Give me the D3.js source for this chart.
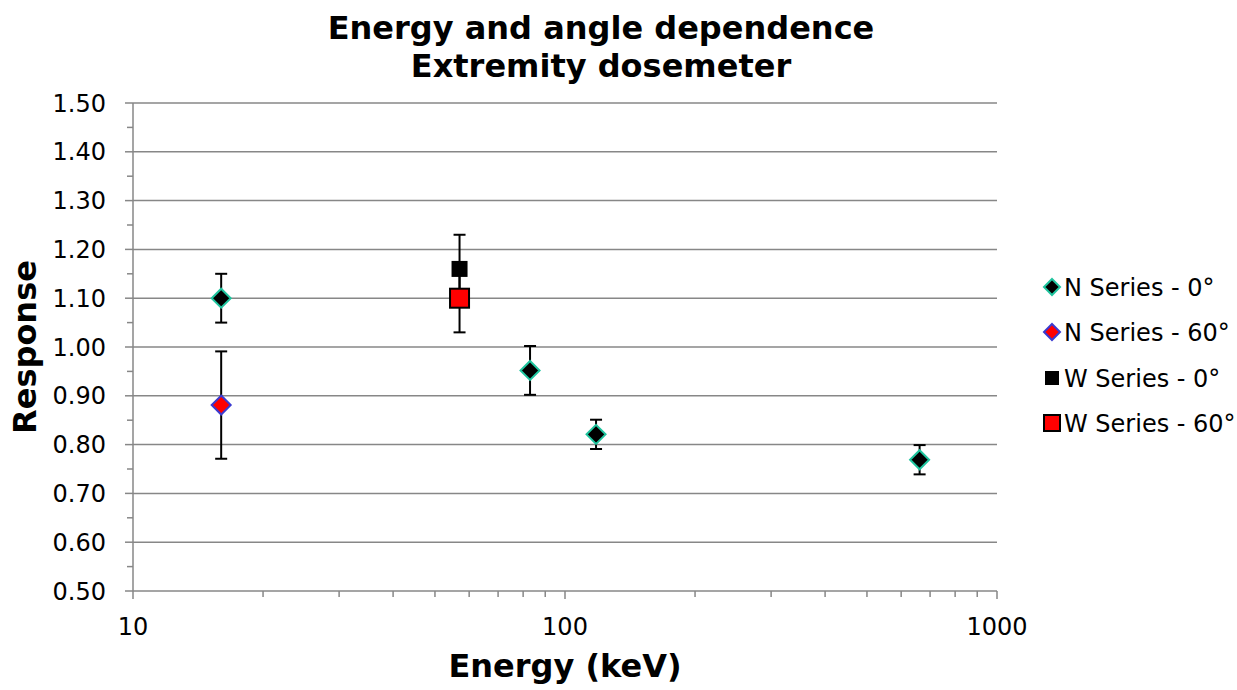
<!DOCTYPE html>
<html>
<head>
<meta charset="utf-8">
<script src="https://cdnjs.cloudflare.com/ajax/libs/d3/7.8.5/d3.min.js"></script>
<style>
  html, body { margin: 0; padding: 0; background: #fff; }
  svg { display: block; }
  text { font-family: "DejaVu Sans", Verdana, sans-serif; fill: #000; }
</style>
</head>
<body>
<script>
// Response of the extremity dosemeter versus photon energy (keV), with error bars
const nSeries0Energy = [16, 83, 118, 662];
const nSeries0Resp   = [1.10, 0.952, 0.821, 0.769];
const nSeries0Err    = [0.05, 0.05, 0.03, 0.03];

const nSeries60Energy = [16];
const nSeries60Resp   = [0.881];
const nSeries60Err    = [0.11];

const wSeries0Energy = [57];
const wSeries0Resp   = [1.16];
const wSeries0Err    = [0.07];

const wSeries60Energy = [57];
const wSeries60Resp   = [1.10];
const wSeries60Err    = [0.07];

const yTicks = [0.50, 0.60, 0.70, 0.80, 0.90, 1.00, 1.10, 1.20, 1.30, 1.40, 1.50];
const xTicks = [10, 100, 1000];
const legendLabels = ["N Series - 0°", "N Series - 60°", "W Series - 0°", "W Series - 60°"];

const W = 1237, H = 690;
const plot = { left: 133, right: 997, top: 103, bottom: 591 };
const gridColor = "#878787";

const svg = d3.select("body").append("svg").attr("width", W).attr("height", H);

const x = d3.scaleLog().domain([10, 1000]).range([plot.left, plot.right]);
const y = d3.scaleLinear().domain([0.5, 1.5]).range([plot.bottom, plot.top]);

// horizontal gridlines
svg.append("g").selectAll("line").data(yTicks.slice(1)).join("line")
  .attr("x1", plot.left).attr("x2", plot.right)
  .attr("y1", d => y(d)).attr("y2", d => y(d))
  .attr("stroke", gridColor).attr("stroke-width", 1.5);

// y axis: major ticks with labels, minor ticks halfway
const yMinor = d3.range(0.55, 1.5, 0.1);
const yAxis = svg.append("g");
yAxis.append("line").attr("x1", plot.left).attr("x2", plot.left)
  .attr("y1", plot.top).attr("y2", plot.bottom).attr("stroke", gridColor).attr("stroke-width", 1.5);
yAxis.selectAll(".maj").data(yTicks).join("line").attr("class", "maj")
  .attr("x1", plot.left - 8).attr("x2", plot.left)
  .attr("y1", d => y(d)).attr("y2", d => y(d)).attr("stroke", gridColor).attr("stroke-width", 1.5);
yAxis.selectAll(".min").data(yMinor).join("line").attr("class", "min")
  .attr("x1", plot.left - 6).attr("x2", plot.left)
  .attr("y1", d => y(d)).attr("y2", d => y(d)).attr("stroke", gridColor).attr("stroke-width", 1.5);
yAxis.selectAll("text").data(yTicks).join("text")
  .attr("x", plot.left - 27).attr("y", d => y(d)).attr("dy", "0.36em")
  .attr("text-anchor", "end").attr("font-size", 24)
  .text(d => d.toFixed(2));

// x axis: log scale, decade labels and minor ticks
const xMinor = [];
[10, 100].forEach(dec => { for (let k = 2; k <= 9; k++) xMinor.push(dec * k); });
const xAxis = svg.append("g");
xAxis.append("line").attr("x1", plot.left).attr("x2", plot.right)
  .attr("y1", plot.bottom).attr("y2", plot.bottom).attr("stroke", gridColor).attr("stroke-width", 1.5);
xAxis.selectAll(".maj").data(xTicks).join("line").attr("class", "maj")
  .attr("x1", d => x(d)).attr("x2", d => x(d))
  .attr("y1", plot.bottom).attr("y2", plot.bottom + 8).attr("stroke", gridColor).attr("stroke-width", 1.5);
xAxis.selectAll(".min").data(xMinor).join("line").attr("class", "min")
  .attr("x1", d => x(d)).attr("x2", d => x(d))
  .attr("y1", plot.bottom).attr("y2", plot.bottom + 6).attr("stroke", gridColor).attr("stroke-width", 1.5);
xAxis.selectAll("text").data(xTicks).join("text")
  .attr("x", d => x(d)).attr("y", plot.bottom + 44)
  .attr("text-anchor", "middle").attr("font-size", 24)
  .text(d => d);

// series
const series = [
  { e: nSeries0Energy,  r: nSeries0Resp,  err: nSeries0Err,  shape: "diamond", fill: "#000", stroke: "#1fc49e", size: 9.5, sw: 2 },
  { e: nSeries60Energy, r: nSeries60Resp, err: nSeries60Err, shape: "diamond", fill: "#ff0000", stroke: "#3a3ad0", size: 9.5, sw: 2 },
  { e: wSeries0Energy,  r: wSeries0Resp,  err: wSeries0Err,  shape: "square", fill: "#000", stroke: "none", size: 8, sw: 0 },
  { e: wSeries60Energy, r: wSeries60Resp, err: wSeries60Err, shape: "square", fill: "#ff0000", stroke: "#000", size: 9.5, sw: 2 }
];

const pts = s => s.e.map((e, i) => ({ e, r: s.r[i], err: s.err[i] }));

// error bars
const eb = svg.append("g");
series.forEach(s => {
  const g = eb.append("g");
  const data = pts(s);
  g.selectAll(".v").data(data).join("line")
    .attr("x1", d => x(d.e)).attr("x2", d => x(d.e))
    .attr("y1", d => y(d.r - d.err)).attr("y2", d => y(d.r + d.err))
    .attr("stroke", "#000").attr("stroke-width", 2);
  [-1, 1].forEach(sg => {
    g.selectAll(".c" + sg).data(data).join("line")
      .attr("x1", d => x(d.e) - 6).attr("x2", d => x(d.e) + 6)
      .attr("y1", d => y(d.r + sg * d.err)).attr("y2", d => y(d.r + sg * d.err))
      .attr("stroke", "#000").attr("stroke-width", 2);
  });
});

function drawMarker(g, shape, cx, cy, size, fill, stroke, sw) {
  if (shape === "diamond") {
    g.append("path")
      .attr("d", `M${cx},${cy - size}L${cx + size},${cy}L${cx},${cy + size}L${cx - size},${cy}Z`)
      .attr("fill", fill).attr("stroke", stroke).attr("stroke-width", sw);
  } else {
    g.append("rect").attr("x", cx - size).attr("y", cy - size)
      .attr("width", 2 * size).attr("height", 2 * size)
      .attr("fill", fill).attr("stroke", stroke).attr("stroke-width", sw);
  }
}

// markers
const mk = svg.append("g");
series.forEach(s => {
  pts(s).forEach(d => drawMarker(mk, s.shape, x(d.e), y(d.r), s.size, s.fill, s.stroke, s.sw));
});

// legend
const legend = svg.append("g");
const legendY = [287, 332, 378, 423];
series.forEach((s, i) => {
  const sz = s.shape === "diamond" ? 8 : (i === 2 ? 7 : 8);
  drawMarker(legend, s.shape, 1052, legendY[i], sz, s.fill, s.stroke, s.sw);
  legend.append("text").attr("x", 1064).attr("y", legendY[i]).attr("dy", "0.36em")
    .attr("font-size", 24).text(legendLabels[i]);
});

// titles
svg.append("text").attr("x", 601).attr("y", 39).attr("text-anchor", "middle")
  .attr("font-size", 32).attr("font-weight", "bold").text("Energy and angle dependence");
svg.append("text").attr("x", 601).attr("y", 77).attr("text-anchor", "middle")
  .attr("font-size", 32).attr("font-weight", "bold").text("Extremity dosemeter");
svg.append("text").attr("x", 565).attr("y", 677).attr("text-anchor", "middle")
  .attr("font-size", 32).attr("font-weight", "bold").text("Energy (keV)");
svg.append("text").attr("transform", "translate(36,347) rotate(-90)").attr("text-anchor", "middle")
  .attr("font-size", 32).attr("font-weight", "bold").text("Response");
</script>
</body>
</html>
